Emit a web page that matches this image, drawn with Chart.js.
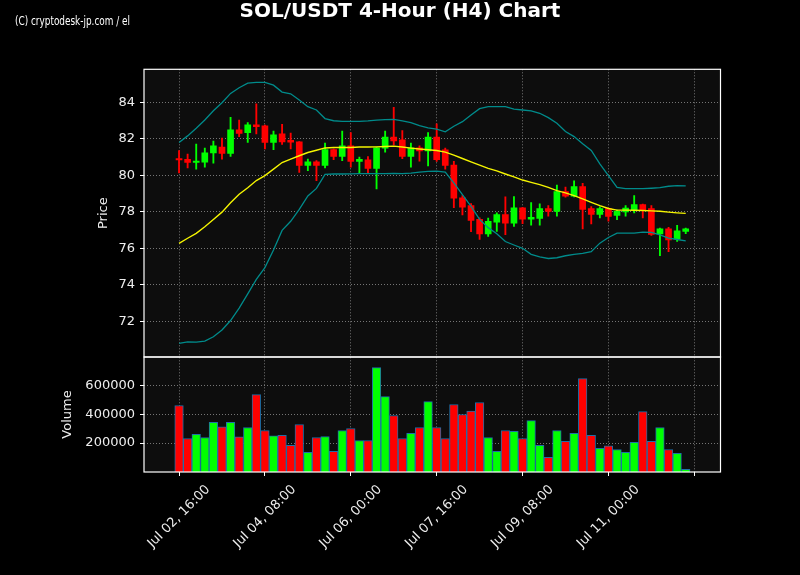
<!DOCTYPE html>
<html>
<head>
<meta charset="utf-8">
<script src="https://cdn.jsdelivr.net/npm/chart.js@4.4.1/dist/chart.umd.min.js"></script>
<style>
html,body{margin:0;padding:0;background:#000;}
#wrap{width:800px;height:575px;}
</style>
</head>
<body>
<div id="wrap"><canvas id="c" width="800" height="575"></canvas></div>
<script>
// ---- data ----
const chartTitle = 'SOL/USDT 4-Hour (H4) Chart';
const watermark = '(C) cryptodesk-jp.com / el';
const xTickPositions = [0, 10, 20, 30, 40, 50, 60];
const xTickLabels = ['Jul 02, 16:00', 'Jul 04, 08:00', 'Jul 06, 00:00', 'Jul 07, 16:00', 'Jul 09, 08:00', 'Jul 11, 00:00', ''];
const priceTicks = [72, 74, 76, 78, 80, 82, 84];
const volumeTicks = [200000, 400000, 600000];

const opens  = [80.91,80.87,80.70,80.72,81.22,81.55,81.20,82.49,82.34,82.76,
                82.71,81.80,82.27,81.91,81.83,80.54,80.74,80.54,81.41,81.03,
                81.62,80.76,80.85,80.38,81.49,82.09,81.94,81.03,81.51,81.34,
                82.09,81.40,80.56,78.76,78.34,77.58,76.78,77.43,77.85,77.37,
                78.22,77.60,77.63,78.17,78.02,79.11,78.85,79.38,78.17,77.86,
                78.18,77.80,77.99,78.12,78.40,78.18,76.78,77.07,76.50,76.93];
const highs  = [81.36,81.16,81.71,81.49,81.87,82.04,83.18,83.02,82.89,83.92,
                82.75,82.43,82.80,82.31,81.85,80.89,80.80,81.76,81.45,82.43,
                82.34,81.00,81.03,81.55,82.43,83.73,82.45,81.76,81.62,82.34,
                82.82,81.49,80.76,78.89,78.45,77.67,77.65,77.94,78.82,78.83,
                78.25,78.51,78.43,78.34,79.47,79.36,79.69,79.56,78.29,78.27,
                78.22,78.09,78.34,78.89,78.42,78.34,77.10,77.15,77.26,77.10];
const lows   = [80.13,80.40,80.34,80.45,80.67,80.89,81.03,82.12,81.80,82.27,
                81.44,81.40,81.69,81.44,80.16,80.25,79.71,80.40,80.85,80.80,
                80.45,80.13,80.09,79.25,81.27,81.67,80.91,80.45,80.78,80.52,
                80.76,80.34,78.22,77.83,76.91,76.49,76.65,76.92,76.74,77.20,
                77.35,77.26,77.26,77.76,77.76,78.80,78.82,77.06,77.33,77.67,
                77.48,77.57,77.76,77.94,77.67,76.70,75.59,75.81,76.37,76.80];
const closes = [80.84,80.70,80.76,81.23,81.62,81.20,82.49,82.29,82.76,82.67,
                81.80,82.22,81.83,81.82,80.54,80.74,80.54,81.41,81.03,81.62,
                80.76,80.87,80.38,81.51,82.09,81.89,81.03,81.51,81.34,82.09,
                80.85,80.54,78.74,78.25,77.52,76.78,77.47,77.85,77.37,78.22,
                77.59,77.69,78.17,78.02,79.11,78.85,79.38,78.13,77.86,78.17,
                77.75,78.03,78.20,78.40,78.12,76.76,77.07,76.46,76.96,77.07];
const volumes = [460000,232000,260000,239000,343000,313000,343000,244000,308000,536000,
                 287000,251000,253000,184000,329000,136000,239000,246000,143000,287000,
                 301000,218000,218000,722000,522000,391000,232000,267000,308000,487000,
                 308000,232000,467000,398000,421000,481000,239000,143000,287000,281000,
                 232000,356000,184000,101000,287000,212000,267000,646000,253000,163000,
                 182000,156000,136000,205000,418000,212000,308000,156000,129000,18000];
const upperBand = [81.80,82.16,82.58,83.03,83.54,83.98,84.49,84.80,85.05,85.09,
                   85.09,84.94,84.56,84.47,84.13,83.76,83.58,83.11,82.99,82.96,
                   82.96,82.96,82.98,83.02,83.05,83.07,82.98,82.89,82.72,82.60,
                   82.53,82.38,82.69,82.94,83.31,83.65,83.76,83.76,83.76,83.63,
                   83.58,83.53,83.40,83.16,82.85,82.40,82.12,81.73,81.36,80.63,
                   79.98,79.34,79.27,79.27,79.27,79.29,79.32,79.40,79.43,79.42];
const middleBand = [76.27,76.55,76.82,77.18,77.58,77.98,78.49,78.96,79.32,79.71,
                    79.98,80.34,80.70,80.89,81.07,81.25,81.37,81.50,81.52,81.52,
                    81.52,81.55,81.55,81.56,81.58,81.60,81.55,81.49,81.44,81.40,
                    81.36,81.27,81.11,80.92,80.74,80.56,80.38,80.24,80.07,79.91,
                    79.74,79.61,79.49,79.34,79.16,79.04,78.89,78.71,78.52,78.34,
                    78.18,78.09,78.09,78.08,78.07,78.05,78.03,77.98,77.94,77.91];
const lowerBand = [70.79,70.87,70.85,70.91,71.15,71.52,72.04,72.72,73.50,74.29,
                   74.94,75.90,76.98,77.48,78.13,78.87,79.28,80.05,80.07,80.07,
                   80.08,80.09,80.09,80.09,80.09,80.10,80.09,80.12,80.17,80.22,
                   80.23,80.18,79.58,78.94,78.30,77.58,77.13,76.80,76.37,76.18,
                   76.00,75.67,75.53,75.44,75.48,75.59,75.67,75.72,75.81,76.28,
                   76.59,76.83,76.83,76.83,76.89,76.87,76.74,76.56,76.48,76.41];

// ---- styles ----
const UP = '#00ff00', DOWN = '#ff0000';
const TXT = '#eeeeee';
const GRID = 'rgba(150,150,150,0.85)';
const FONT = 'DejaVu Sans';
const candleColors = opens.map((o, i) => closes[i] >= o ? UP : DOWN);

const idx = opens.map((_, i) => i);
const wickData = idx.map(i => ({x: i, y: [lows[i], highs[i]]}));
const bodyData = idx.map(i => ({x: i, y: [opens[i], closes[i]]}));
const volData = idx.map(i => ({x: i, y: volumes[i]}));
const line = arr => arr.map((v, i) => ({x: i, y: v}));

const panelPlugin = {
  id: 'panels',
  beforeDraw(chart) {
    const {ctx, chartArea: ca} = chart;
    ctx.save();
    ctx.fillStyle = '#000';
    ctx.fillRect(0, 0, chart.width, chart.height);
    ctx.fillStyle = '#0d0d0d';
    ctx.fillRect(ca.left, ca.top, ca.right - ca.left, ca.bottom - ca.top);
    ctx.restore();
  },
  afterDraw(chart) {
    const {ctx, chartArea: ca} = chart;
    const y = chart.scales.y, yv = chart.scales.yv;
    ctx.save();
    ctx.strokeStyle = '#ffffff';
    ctx.lineWidth = 1.2;
    ctx.strokeRect(ca.left, y.top, ca.right - ca.left, y.bottom - y.top);
    ctx.strokeRect(ca.left, yv.top, ca.right - ca.left, yv.bottom - yv.top);
    // watermark, condensed to the reference width
    ctx.fillStyle = '#ffffff';
    ctx.font = '13px "Liberation Sans Narrow", "DejaVu Sans Condensed", sans-serif';
    ctx.textBaseline = 'alphabetic';
    ctx.textAlign = 'left';
    const w = ctx.measureText(watermark).width;
    ctx.translate(15, 25);
    ctx.scale(115 / w, 1);
    ctx.fillText(watermark, 0, 0);
    ctx.restore();
  }
};

const gridCfg = {color: GRID, lineWidth: 0.9, tickColor: '#ffffff', tickLength: 4, tickBorderDash: [], tickWidth: 1};
const tickFont = {family: FONT, size: 13};

new Chart(document.getElementById('c'), {
  type: 'bar',
  data: {
    datasets: [
      {type: 'line', label: 'Upper', data: line(upperBand), yAxisID: 'y', borderColor: '#008b8b', borderWidth: 1.3, pointRadius: 0, tension: 0, order: 0},
      {type: 'line', label: 'Lower', data: line(lowerBand), yAxisID: 'y', borderColor: '#008b8b', borderWidth: 1.3, pointRadius: 0, tension: 0, order: 0},
      {type: 'line', label: 'SMA', data: line(middleBand), yAxisID: 'y', borderColor: '#f5f500', borderWidth: 1.4, pointRadius: 0, tension: 0, order: 0},
      {label: 'Body', data: bodyData, yAxisID: 'y', backgroundColor: candleColors, borderWidth: 0, barThickness: 6, minBarLength: 1.5, grouped: false, order: 1},
      {label: 'Wick', data: wickData, yAxisID: 'y', backgroundColor: candleColors, borderWidth: 0, barThickness: 1.2, grouped: false, order: 2},
      {label: 'Volume', data: volData, yAxisID: 'yv', backgroundColor: candleColors, borderColor: '#1f6fa8', borderWidth: 1, barPercentage: 1, categoryPercentage: 1, grouped: false, order: 3}
    ]
  },
  options: {
    responsive: false,
    animation: false,
    devicePixelRatio: 1,
    layout: {padding: {left: 0, right: 0, top: 0, bottom: 0}},
    plugins: {
      legend: {display: false},
      tooltip: {enabled: false},
      title: {display: true, text: chartTitle, color: '#ffffff', font: {family: FONT, size: 20, weight: 'bold', lineHeight: 1.2}, padding: {top: 0, bottom: 45.3}}
    },
    scales: {
      x: {
        type: 'linear', min: -4.08, max: 63.05, offset: false,
        afterBuildTicks: s => { s.ticks = xTickPositions.map(v => ({value: v})); },
        afterFit: s => { s.height = 103; },
        ticks: {autoSkip: false, minRotation: 45, maxRotation: 45, labelOffset: 29, padding: 6, color: TXT, font: tickFont,
                callback: (v, i) => xTickLabels[i]},
        grid: Object.assign({offset: false}, gridCfg),
        border: {display: false, dash: [1, 2]}
      },
      yv: {
        type: 'linear', position: 'left', stack: 'panels', stackWeight: 115, min: 0, max: 796000,
        afterBuildTicks: s => { s.ticks = volumeTicks.map(v => ({value: v})); },
        afterFit: s => { s.width = 144; },
        ticks: {color: TXT, font: tickFont, padding: 5, callback: v => String(v)},
        grid: gridCfg,
        border: {display: false, dash: [1, 2]},
        title: {display: true, text: 'Volume', color: TXT, font: {family: FONT, size: 13}, padding: {top: 60, bottom: 0}}
      },
      y: {
        type: 'linear', position: 'left', stack: 'panels', stackWeight: 287.7, min: 70.04, max: 85.81,
        afterBuildTicks: s => { s.ticks = priceTicks.map(v => ({value: v})); },
        afterFit: s => { s.width = 144; },
        ticks: {color: TXT, font: tickFont, padding: 5, callback: v => String(v)},
        grid: gridCfg,
        border: {display: false, dash: [1, 2]},
        title: {display: true, text: 'Price', color: TXT, font: {family: FONT, size: 13}, padding: {top: 96, bottom: 0}}
      },
      spacer: {
        type: 'linear', position: 'right', display: true,
        afterFit: s => { s.width = 79.5; },
        ticks: {display: false},
        grid: {display: false, drawTicks: false},
        border: {display: false}
      }
    }
  },
  plugins: [panelPlugin]
});
</script>
</body>
</html>
